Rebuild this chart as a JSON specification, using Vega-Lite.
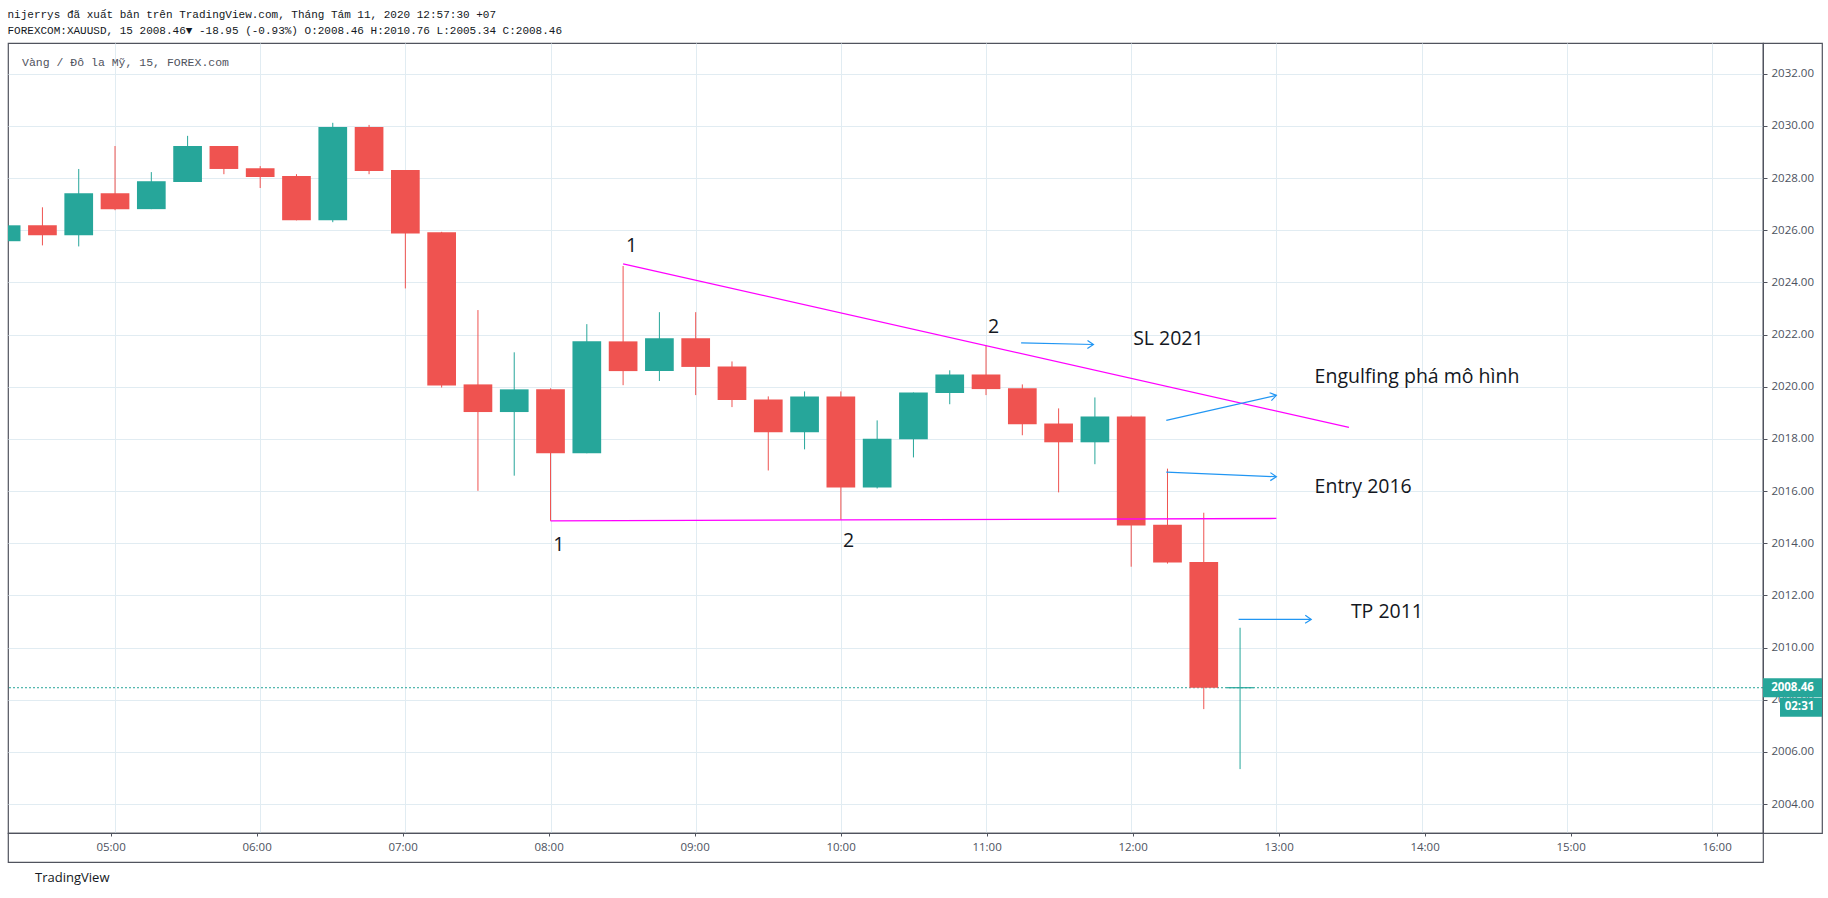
{
  "$schema": "https://vega.github.io/schema/vega-lite/v6.json",
  "background": "white",
  "autosize": {"type": "pad"},
  "padding": {"left": 0, "top": 9, "right": 0, "bottom": 0},
  "title": {
    "text": "nijerrys đã xuất bản trên TradingView.com, Tháng Tám 11, 2020 12:57:30 +07",
    "subtitle": "FOREXCOM:XAUUSD, 15 2008.46▼ -18.95 (-0.93%) O:2008.46 H:2010.76 L:2005.34 C:2008.46",
    "anchor": "start",
    "dx": 7,
    "font": "Liberation Mono",
    "fontSize": 11,
    "fontWeight": "normal",
    "color": "#131722",
    "subtitleFont": "Liberation Mono",
    "subtitleFontSize": 11,
    "subtitleColor": "#131722",
    "subtitlePadding": 5,
    "offset": 6
  },
  "datasets": {
    "candles": [
      {"t": "2020-08-11T04:15:00Z", "open": 2025.58, "high": 2026.30, "low": 2025.45, "close": 2026.19},
      {"t": "2020-08-11T04:30:00Z", "open": 2026.19, "high": 2026.88, "low": 2025.42, "close": 2025.81},
      {"t": "2020-08-11T04:45:00Z", "open": 2025.81, "high": 2028.35, "low": 2025.38, "close": 2027.42},
      {"t": "2020-08-11T05:00:00Z", "open": 2027.42, "high": 2029.23, "low": 2026.77, "close": 2026.81},
      {"t": "2020-08-11T05:15:00Z", "open": 2026.81, "high": 2028.23, "low": 2026.81, "close": 2027.88},
      {"t": "2020-08-11T05:30:00Z", "open": 2027.85, "high": 2029.62, "low": 2027.85, "close": 2029.23},
      {"t": "2020-08-11T05:45:00Z", "open": 2029.23, "high": 2029.23, "low": 2028.15, "close": 2028.35},
      {"t": "2020-08-11T06:00:00Z", "open": 2028.38, "high": 2028.46, "low": 2027.62, "close": 2028.04},
      {"t": "2020-08-11T06:15:00Z", "open": 2028.08, "high": 2028.15, "low": 2026.38, "close": 2026.38},
      {"t": "2020-08-11T06:30:00Z", "open": 2026.38, "high": 2030.12, "low": 2026.31, "close": 2029.96},
      {"t": "2020-08-11T06:45:00Z", "open": 2029.96, "high": 2030.04, "low": 2028.15, "close": 2028.27},
      {"t": "2020-08-11T07:00:00Z", "open": 2028.31, "high": 2028.31, "low": 2023.77, "close": 2025.88},
      {"t": "2020-08-11T07:15:00Z", "open": 2025.92, "high": 2025.94, "low": 2019.97, "close": 2020.05},
      {"t": "2020-08-11T07:30:00Z", "open": 2020.09, "high": 2022.94, "low": 2016.01, "close": 2019.03},
      {"t": "2020-08-11T07:45:00Z", "open": 2019.03, "high": 2021.32, "low": 2016.59, "close": 2019.90},
      {"t": "2020-08-11T08:00:00Z", "open": 2019.90, "high": 2019.94, "low": 2014.86, "close": 2017.45},
      {"t": "2020-08-11T08:15:00Z", "open": 2017.45, "high": 2022.40, "low": 2017.45, "close": 2021.74},
      {"t": "2020-08-11T08:30:00Z", "open": 2021.74, "high": 2024.63, "low": 2020.06, "close": 2020.60},
      {"t": "2020-08-11T08:45:00Z", "open": 2020.60, "high": 2022.86, "low": 2020.22, "close": 2021.86},
      {"t": "2020-08-11T09:00:00Z", "open": 2021.86, "high": 2022.86, "low": 2019.68, "close": 2020.76},
      {"t": "2020-08-11T09:15:00Z", "open": 2020.78, "high": 2020.97, "low": 2019.22, "close": 2019.49},
      {"t": "2020-08-11T09:30:00Z", "open": 2019.51, "high": 2019.63, "low": 2016.79, "close": 2018.26},
      {"t": "2020-08-11T09:45:00Z", "open": 2018.26, "high": 2019.82, "low": 2017.60, "close": 2019.63},
      {"t": "2020-08-11T10:00:00Z", "open": 2019.63, "high": 2019.82, "low": 2014.90, "close": 2016.14},
      {"t": "2020-08-11T10:15:00Z", "open": 2016.14, "high": 2018.71, "low": 2016.10, "close": 2018.01},
      {"t": "2020-08-11T10:30:00Z", "open": 2017.99, "high": 2019.78, "low": 2017.29, "close": 2019.78},
      {"t": "2020-08-11T10:45:00Z", "open": 2019.76, "high": 2020.63, "low": 2019.33, "close": 2020.47},
      {"t": "2020-08-11T11:00:00Z", "open": 2020.47, "high": 2021.59, "low": 2019.68, "close": 2019.91},
      {"t": "2020-08-11T11:15:00Z", "open": 2019.94, "high": 2020.09, "low": 2018.14, "close": 2018.56},
      {"t": "2020-08-11T11:30:00Z", "open": 2018.59, "high": 2019.17, "low": 2015.95, "close": 2017.87},
      {"t": "2020-08-11T11:45:00Z", "open": 2017.87, "high": 2019.59, "low": 2017.03, "close": 2018.86},
      {"t": "2020-08-11T12:00:00Z", "open": 2018.86, "high": 2018.90, "low": 2013.10, "close": 2014.68},
      {"t": "2020-08-11T12:15:00Z", "open": 2014.71, "high": 2016.86, "low": 2013.22, "close": 2013.26},
      {"t": "2020-08-11T12:30:00Z", "open": 2013.28, "high": 2015.17, "low": 2007.64, "close": 2008.46},
      {"t": "2020-08-11T12:45:00Z", "open": 2008.46, "high": 2010.76, "low": 2005.34, "close": 2008.46}
    ],
    "trendlines": [
      {"id": "resistance", "t": "2020-08-11T08:30:00Z", "v": 2024.71},
      {"id": "resistance", "t": "2020-08-11T13:30:00Z", "v": 2018.44},
      {"id": "support", "t": "2020-08-11T08:00:00Z", "v": 2014.86},
      {"id": "support", "t": "2020-08-11T13:00:00Z", "v": 2014.95}
    ],
    "arrows": [
      {"id": "sl", "t": "2020-08-11T11:14:30Z", "v": 2021.68},
      {"id": "sl", "t": "2020-08-11T11:44:24Z", "v": 2021.62},
      {"id": "engulf", "t": "2020-08-11T12:14:30Z", "v": 2018.71},
      {"id": "engulf", "t": "2020-08-11T13:00:00Z", "v": 2019.67},
      {"id": "entry", "t": "2020-08-11T12:14:30Z", "v": 2016.73},
      {"id": "entry", "t": "2020-08-11T13:00:00Z", "v": 2016.55},
      {"id": "tp", "t": "2020-08-11T12:44:24Z", "v": 2011.08},
      {"id": "tp", "t": "2020-08-11T13:14:24Z", "v": 2011.08}
    ],
    "arrowheads": [
      {"id": "sl", "t": "2020-08-11T11:44:24Z", "v": 2021.62},
      {"id": "engulf", "t": "2020-08-11T13:00:00Z", "v": 2019.67},
      {"id": "entry", "t": "2020-08-11T13:00:00Z", "v": 2016.55},
      {"id": "tp", "t": "2020-08-11T13:14:24Z", "v": 2011.08}
    ],
    "points": [
      {"t": "2020-08-11T08:33:27Z", "v": 2025.41, "label": "1"},
      {"t": "2020-08-11T08:03:27Z", "v": 2013.94, "label": "1"},
      {"t": "2020-08-11T10:03:12Z", "v": 2014.10, "label": "2"},
      {"t": "2020-08-11T11:03:06Z", "v": 2022.28, "label": "2"}
    ],
    "notes": [
      {"t": "2020-08-11T12:00:48Z", "v": 2021.84, "label": "SL 2021"},
      {"t": "2020-08-11T13:15:48Z", "v": 2020.39, "label": "Engulfing phá mô hình"},
      {"t": "2020-08-11T13:15:48Z", "v": 2016.17, "label": "Entry 2016"},
      {"t": "2020-08-11T13:30:48Z", "v": 2011.37, "label": "TP 2011"}
    ],
    "legend": [
      {"t": "2020-08-11T04:21:33Z", "v": 2032.41, "label": "Vàng / Đô la Mỹ, 15, FOREX.com"}
    ],
    "last": [
      {"price": 2008.46, "label": "2008.46", "countdown": "02:31"}
    ]
  },
  "columns": 2,
  "spacing": 0,
  "bounds": "flush",
  "concat": [
    {
      "width": 1755,
      "height": 790,
      "layer": [
        {
          "data": {"name": "last"},
          "mark": {"type": "rule", "color": "#26a69a", "strokeDash": [2, 2], "strokeWidth": 1},
          "encoding": {
            "y": {"field": "price", "type": "quantitative", "scale": {"domain": [2002.89, 2033.18], "nice": false, "zero": false},
              "axis": {"grid": true, "labels": false, "ticks": false, "domain": false, "title": null, "values": [2004, 2006, 2008, 2010, 2012, 2014, 2016, 2018, 2020, 2022, 2024, 2026, 2028, 2030, 2032], "gridColor": "#e1ecf2", "orient": "right"}}
          }
        },
        {
          "data": {"name": "candles"},
          "mark": {"type": "rule", "strokeWidth": 1, "clip": true},
          "encoding": {
            "x": {
              "field": "t",
              "type": "temporal",
              "scale": {"type": "utc", "domain": [1597119470000, 1597162744000]},
              "axis": {"grid": true, "labels": false, "ticks": false, "domain": false, "title": null, "values": [1597122000000, 1597125600000, 1597129200000, 1597132800000, 1597136400000, 1597140000000, 1597143600000, 1597147200000, 1597150800000, 1597154400000, 1597158000000, 1597161600000], "gridColor": "#e1ecf2"}
            },
            "y": {"field": "low", "type": "quantitative"},
            "y2": {"field": "high"},
            "color": {"condition": {"test": "datum.close >= datum.open", "value": "#26a69a"}, "value": "#ef5350"}
          }
        },
        {
          "data": {"name": "candles"},
          "mark": {"type": "bar", "width": 28.7, "clip": true},
          "encoding": {
            "x": {"field": "t", "type": "temporal"},
            "y": {"field": "open", "type": "quantitative"},
            "y2": {"field": "close"},
            "color": {"condition": {"test": "datum.close >= datum.open", "value": "#26a69a"}, "value": "#ef5350"}
          }
        },
        {
          "data": {"name": "candles"},
          "transform": [{"filter": "datum.open == datum.close"}],
          "mark": {"type": "tick", "orient": "horizontal", "size": 27, "thickness": 1.2, "color": "#26a69a", "opacity": 1},
          "encoding": {
            "x": {"field": "t", "type": "temporal"},
            "y": {"field": "close", "type": "quantitative"}
          }
        },
        {
          "data": {"name": "trendlines"},
          "mark": {"type": "line", "color": "#ff00ff", "strokeWidth": 1.3},
          "encoding": {
            "x": {"field": "t", "type": "temporal"},
            "y": {"field": "v", "type": "quantitative"},
            "detail": {"field": "id"}
          }
        },
        {
          "data": {"name": "arrows"},
          "mark": {"type": "line", "color": "#2196f3", "strokeWidth": 1.2},
          "encoding": {
            "x": {"field": "t", "type": "temporal"},
            "y": {"field": "v", "type": "quantitative"},
            "detail": {"field": "id"}
          }
        },
        {
          "data": {"name": "arrowheads"},
          "transform": [{"filter": "datum.id != 'engulf'"}],
          "mark": {"type": "point", "shape": "M-1.5,-1L0,0L-1.5,1", "filled": false, "size": 64, "stroke": "#2196f3", "strokeWidth": 1.2, "opacity": 1, "angle": 1},
          "encoding": {
            "x": {"field": "t", "type": "temporal"},
            "y": {"field": "v", "type": "quantitative"}
          }
        },
        {
          "data": {"name": "arrowheads"},
          "transform": [{"filter": "datum.id == 'engulf'"}],
          "mark": {"type": "point", "shape": "M-1.5,-1L0,0L-1.5,1", "filled": false, "size": 64, "stroke": "#2196f3", "strokeWidth": 1.2, "opacity": 1, "angle": -13},
          "encoding": {
            "x": {"field": "t", "type": "temporal"},
            "y": {"field": "v", "type": "quantitative"}
          }
        },
        {
          "data": {"name": "points"},
          "mark": {"type": "text", "font": "Open Sans", "fontSize": 19.5, "fontWeight": 500, "color": "#131722", "align": "center", "baseline": "middle"},
          "encoding": {
            "x": {"field": "t", "type": "temporal"},
            "y": {"field": "v", "type": "quantitative"},
            "text": {"field": "label"}
          }
        },
        {
          "data": {"name": "notes"},
          "mark": {"type": "text", "font": "Open Sans", "fontSize": 19.5, "fontWeight": 500, "color": "#131722", "align": "left", "baseline": "middle"},
          "encoding": {
            "x": {"field": "t", "type": "temporal"},
            "y": {"field": "v", "type": "quantitative"},
            "text": {"field": "label"}
          }
        },
        {
          "data": {"name": "legend"},
          "mark": {"type": "text", "font": "Liberation Mono", "fontSize": 11.5, "color": "#50535e", "align": "left", "baseline": "middle"},
          "encoding": {
            "x": {"field": "t", "type": "temporal"},
            "y": {"field": "v", "type": "quantitative"},
            "text": {"field": "label"}
          }
        }
      ]
    },
    {
      "width": 59,
      "height": 790,
      "data": {"name": "last"},
      "layer": [
        {
          "mark": {"type": "tick", "orient": "horizontal", "size": 59, "thickness": 19, "color": "#26a69a", "opacity": 1},
          "encoding": {
            "y": {"field": "price", "type": "quantitative", "scale": {"domain": [2002.89, 2033.18], "nice": false, "zero": false},
              "axis": {"orient": "right", "offset": -59, "values": [2004, 2006, 2008, 2010, 2012, 2014, 2016, 2018, 2020, 2022, 2024, 2026, 2028, 2030, 2032], "format": ".2f", "labelFont": "Open Sans", "labelFontSize": 11.5, "labelColor": "#4c525e", "tickColor": "#50535e", "tickSize": 4, "labelPadding": 4, "domain": false, "grid": false, "title": null}}
          }
        },
        {
          "mark": {"type": "text", "color": "white", "font": "Open Sans", "fontSize": 11.5, "fontWeight": "bold", "align": "center", "baseline": "middle"},
          "encoding": {
            "y": {"field": "price", "type": "quantitative"},
            "text": {"field": "label"}
          }
        },
        {
          "mark": {"type": "tick", "orient": "horizontal", "size": 42, "thickness": 19, "color": "#26a69a", "opacity": 1, "xOffset": 8.5, "yOffset": 19.5},
          "encoding": {
            "y": {"field": "price", "type": "quantitative"}
          }
        },
        {
          "mark": {"type": "text", "color": "white", "font": "Open Sans", "fontSize": 11.5, "fontWeight": "bold", "align": "center", "baseline": "middle", "xOffset": 7, "yOffset": 19.5},
          "encoding": {
            "y": {"field": "price", "type": "quantitative"},
            "text": {"field": "countdown"}
          }
        }
      ]
    },
    {
      "width": 1755,
      "height": 29,
      "data": {"name": "candles"},
      "title": {"text": "TradingView", "orient": "bottom", "anchor": "start", "font": "Open Sans", "fontSize": 13, "fontWeight": "normal", "color": "#131722", "offset": 10, "dx": 34},
      "mark": {"type": "text"},
      "encoding": {
        "x": {
          "field": "t",
          "type": "temporal",
          "scale": {"type": "utc", "domain": [1597119470000, 1597162744000]},
          "axis": {"orient": "bottom", "offset": -29, "values": [1597122000000, 1597125600000, 1597129200000, 1597132800000, 1597136400000, 1597140000000, 1597143600000, 1597147200000, 1597150800000, 1597154400000, 1597158000000, 1597161600000], "format": "%H:%M", "labelFont": "Open Sans", "labelFontSize": 11.5, "labelColor": "#4c525e", "tickColor": "#50535e", "tickSize": 3, "labelPadding": 5, "domain": false, "grid": false, "title": null, "labelFlush": false}
        },
        "text": {"value": ""}
      }
    },
    {
      "width": 59,
      "height": 29,
      "data": {"name": "last"},
      "mark": {"type": "text"},
      "encoding": {"text": {"value": ""}}
    }
  ],
  "config": {
    "view": {"stroke": "#50535e", "strokeWidth": 1.2},
    "font": "Open Sans"
  }
}
